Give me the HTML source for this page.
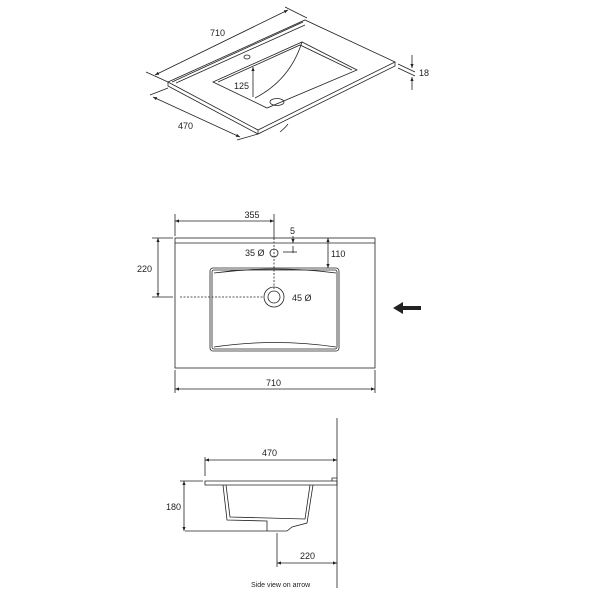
<!DOCTYPE html>
<html><head><style>body{margin:0;background:#fff}svg{display:block}text{font-family:"Liberation Sans",sans-serif;font-size:9px;fill:#222}</style></head><body>
<svg width="600" height="600" viewBox="0 0 600 600">
<defs><marker id="a" viewBox="0 0 10 10" refX="10" refY="5" markerWidth="5" markerHeight="5" orient="auto-start-reverse"><path d="M0,1L10,5L0,9z" fill="#222"/></marker></defs>
<g stroke="#222" stroke-width="0.8" fill="none">
<!-- iso view -->
<path d="M168,82 L305,20 L395,62 L258,130 Z" fill="#fff"/>
<path d="M168,82 L168,86 L258,134 L395,66 L395,62"/>
<path d="M258,130 L258,134"/>
<path d="M172,82 L303,22 M176,83 L305,25"/>
<path d="M213,82 L302,42 L357,70 L267,108 Z"/>
<path d="M218,82 L300,45 L352,70"/>
<path d="M302,42 Q290,80 255,98"/>
<ellipse cx="247" cy="57" rx="3" ry="2"/>
<ellipse cx="277" cy="102" rx="7" ry="3.5"/>
<path d="M280,132 Q285,128 288,124"/>
<path d="M155,75 L288,10" marker-start="url(#a)" marker-end="url(#a)"/>
<path d="M146,72 L168,82 M285,7 L307,18"/>
<path d="M153,97 L240,137" marker-start="url(#a)" marker-end="url(#a)"/>
<path d="M150,95 L168,88 M237,140 L258,134"/>
<path d="M253,67 L253,97" marker-start="url(#a)"/>
<path d="M398,64 L415,72 M398,68 L415,76"/>
<path d="M412,55 L412,68" marker-end="url(#a)"/><path d="M412,90 L412,77" marker-end="url(#a)"/>
<!-- top view -->
<rect x="175" y="238" width="200" height="130"/>
<path d="M175,243 L375,243"/>
<rect x="210" y="268" width="129" height="83" rx="3"/>
<rect x="212" y="270" width="125" height="79" rx="2"/>
<path d="M214,273 Q275,265 336,273 M214,347 Q275,338 336,347"/>
<circle cx="274" cy="253" r="4"/>
<circle cx="274" cy="297" r="10"/><circle cx="274" cy="297" r="6"/>
<path d="M274,214 L274,238"/>
<path d="M274,238 L274,290 M180,297 L264,297" stroke-dasharray="2,1.5"/>
<path d="M175,214 L175,236"/>
<path d="M175,221 L274,221" marker-start="url(#a)" marker-end="url(#a)"/>
<path d="M158,238 L158,297" marker-start="url(#a)" marker-end="url(#a)"/>
<path d="M152,238 L173,238 M152,297 L173,297"/>
<path d="M293,236 L293,243" marker-end="url(#a)"/><path d="M293,253 L293,246"/><path d="M283,252 L297,252"/>
<path d="M328,238 L328,268" marker-start="url(#a)" marker-end="url(#a)"/>
<path d="M175,370 L175,393 M375,370 L375,393"/>
<path d="M175,389 L375,389" marker-start="url(#a)" marker-end="url(#a)"/>
<!-- side view -->
<path d="M337,418 L337,588"/>
<path d="M205,481 L337,481 L337,485 L205,485 Z"/>
<path d="M332,481 L332,478 L337,478"/>
<path d="M223,485 L227,520 L267,521 L267,531 L287,531 L292,527 L307,523 L313,485"/>
<path d="M226,485 L230,517 L305,519 L310,485"/>
<path d="M205,457 L205,476"/>
<path d="M205,460 L337,460" marker-start="url(#a)" marker-end="url(#a)"/>
<path d="M184,481 L184,531" marker-start="url(#a)" marker-end="url(#a)"/>
<path d="M180,481 L203,481 M185,531 L267,531"/>
<path d="M277,533 L277,567"/>
<path d="M277,563 L337,563" marker-start="url(#a)" marker-end="url(#a)"/>
</g>
<path d="M393,308 L403,302 L403,306 L421,306 L421,310 L403,310 L403,314 Z" fill="#222"/>
<text x="210" y="36">710</text>
<text x="178" y="129">470</text>
<text x="234" y="89">125</text>
<text x="419" y="76">18</text>
<text x="252" y="218" text-anchor="middle" x="225">355</text>
<text x="290" y="234">5</text>
<text x="331" y="257">110</text>
<text x="245" y="256">35 Ø</text>
<text x="292" y="301">45 Ø</text>
<text x="137" y="272">220</text>
<text x="266" y="386">710</text>
<text x="262" y="456">470</text>
<text x="166" y="510">180</text>
<text x="300" y="559">220</text>
<text x="251" y="587" style="font-size:7px">Side view on arrow</text>
</svg>
</body></html>
